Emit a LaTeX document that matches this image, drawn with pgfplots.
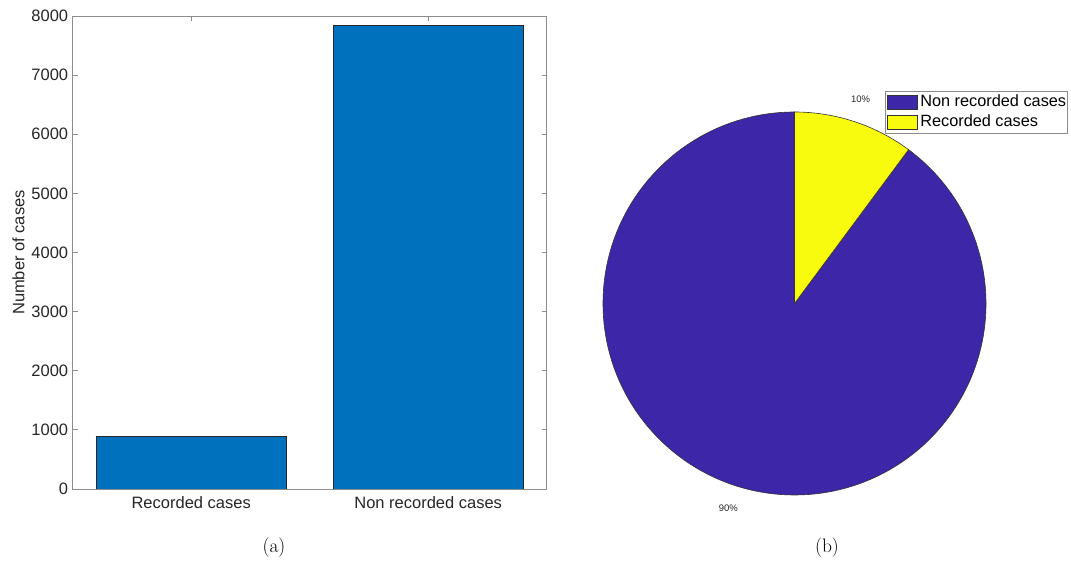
\documentclass[border=0pt]{standalone}
\usepackage{pgfplots}
\usepackage{pgfplotstable}
\usepackage{fontspec}
\pgfplotsset{compat=1.18}
\newfontfamily\arial{Liberation Sans}

\definecolor{barblue}{HTML}{0072BD}
\definecolor{piepurple}{HTML}{3E26A8}
\definecolor{pieyellow}{HTML}{F9FB0E}
\definecolor{axgray}{HTML}{8C8C8C}
\definecolor{txt}{HTML}{262626}

% number of cases per category
\pgfplotstableread{
idx value
1 886
2 7838
}\casedata

\begin{document}
\begin{tikzpicture}
\useasboundingbox (0pt,0pt) rectangle (1071pt,562pt);

\pgfplotstablegetelem{0}{value}\of\casedata \let\vrec\pgfplotsretval
\pgfplotstablegetelem{1}{value}\of\casedata \let\vnon\pgfplotsretval
\pgfmathsetmacro\vtot{\vrec+\vnon}
\pgfmathsetmacro\fnon{\vnon/\vtot}
\pgfmathsetmacro\frec{\vrec/\vtot}
\pgfmathsetmacro\split{90+360*\fnon}
\pgfmathsetmacro\midnon{(90+\split)/2}
\pgfmathsetmacro\midrec{(\split+450)/2}
\pgfmathtruncatemacro\prec{round(100*\frec)}
\pgfmathtruncatemacro\pnon{round(100*\fnon)}

% (a) bar chart
\begin{axis}[
  at={(72.7pt,73pt)}, anchor=south west,
  scale only axis, width=474pt, height=473pt,
  xmin=0.5, xmax=2.5, ymin=0, ymax=8000,
  xtick={1,2}, xticklabels={Recorded cases, Non recorded cases},
  ytick={0,1000,...,8000},
  tick align=inside, major tick length=5pt,
  tick pos=both, xticklabel pos=bottom, yticklabel pos=left,
  axis line style={axgray, line width=0.9pt},
  every tick/.style={axgray, line width=0.9pt},
  tick label style={font=\arial\fontsize{16.5}{19}\selectfont, text=txt},
  xticklabel style={yshift=-4.5pt},
  yticklabel style={xshift=-1pt},
  /pgf/number format/1000 sep={},
  /pgf/number format/assume math mode=true,
  ylabel={Number of cases},
  ylabel style={at={(axis description cs:-0.1143,0.5)}, anchor=center,
    font=\arial\fontsize{16.5}{19}\selectfont, text=txt},
]
\addplot[ybar, bar width=0.8, bar shift=0pt, fill=barblue, draw=black!85, line width=0.6pt]
  table[x=idx, y=value]{\casedata};
\end{axis}

% (b) pie chart: unit circle of radius 191.5pt centred at (794.5pt,258.5pt)
\begin{axis}[
  at={(564.7pt,28.7pt)}, anchor=south west,
  scale only axis, width=503.26pt, height=442.31pt,
  xmin=-1.2, xmax=1.428, ymin=-1.2, ymax=1.1097,
  hide axis, clip=false,
  legend style={at={(1,1)}, anchor=north east, draw=axgray, line width=0.6pt,
    font=\arial\fontsize{16.3}{19}\selectfont, text=black,
    inner xsep=1.5pt, inner ysep=1pt, row sep=0pt,
    nodes={inner sep=0pt, text height=14pt, text depth=6pt}},
  legend cell align=left,
  legend image code/.code={\draw[#1, line width=0.5pt] (0pt,-7pt) rectangle (30pt,7pt);},
]
\addlegendimage{fill=piepurple, draw=black!80}
\addlegendentry{\hspace{3pt}Non recorded cases}
\addlegendimage{fill=pieyellow, draw=black!80}
\addlegendentry{\hspace{3pt}Recorded cases}

\filldraw[fill=piepurple, draw=black!80, line width=0.6pt]
  (axis cs:0,0) -- (axis cs:0,1) arc[start angle=90, end angle=\split, radius=191.5pt] -- cycle;
\filldraw[fill=pieyellow, draw=black!80, line width=0.6pt]
  (axis cs:0,0) -- (axis cs:{cos(\split)},{sin(\split)}) arc[start angle=\split, end angle=450, radius=191.5pt] -- cycle;

\node[anchor=south, inner sep=1pt, font=\arial\fontsize{9.5}{11}\selectfont, text=txt]
  at (axis cs:{1.1*cos(\midrec)},{1.1*sin(\midrec)}) {\prec\%};
\node[anchor=north, inner sep=1pt, font=\arial\fontsize{9.5}{11}\selectfont, text=txt]
  at (axis cs:{1.1*cos(\midnon)},{1.1*sin(\midnon)}) {\pnon\%};
\end{axis}

% sub-figure captions
\node[inner sep=0pt, font=\fontsize{19.5}{23}\selectfont] at (274pt,14.7pt) {(a)};
\node[inner sep=0pt, font=\fontsize{19.5}{23}\selectfont] at (827pt,14.7pt) {(b)};
\end{tikzpicture}
\end{document}
